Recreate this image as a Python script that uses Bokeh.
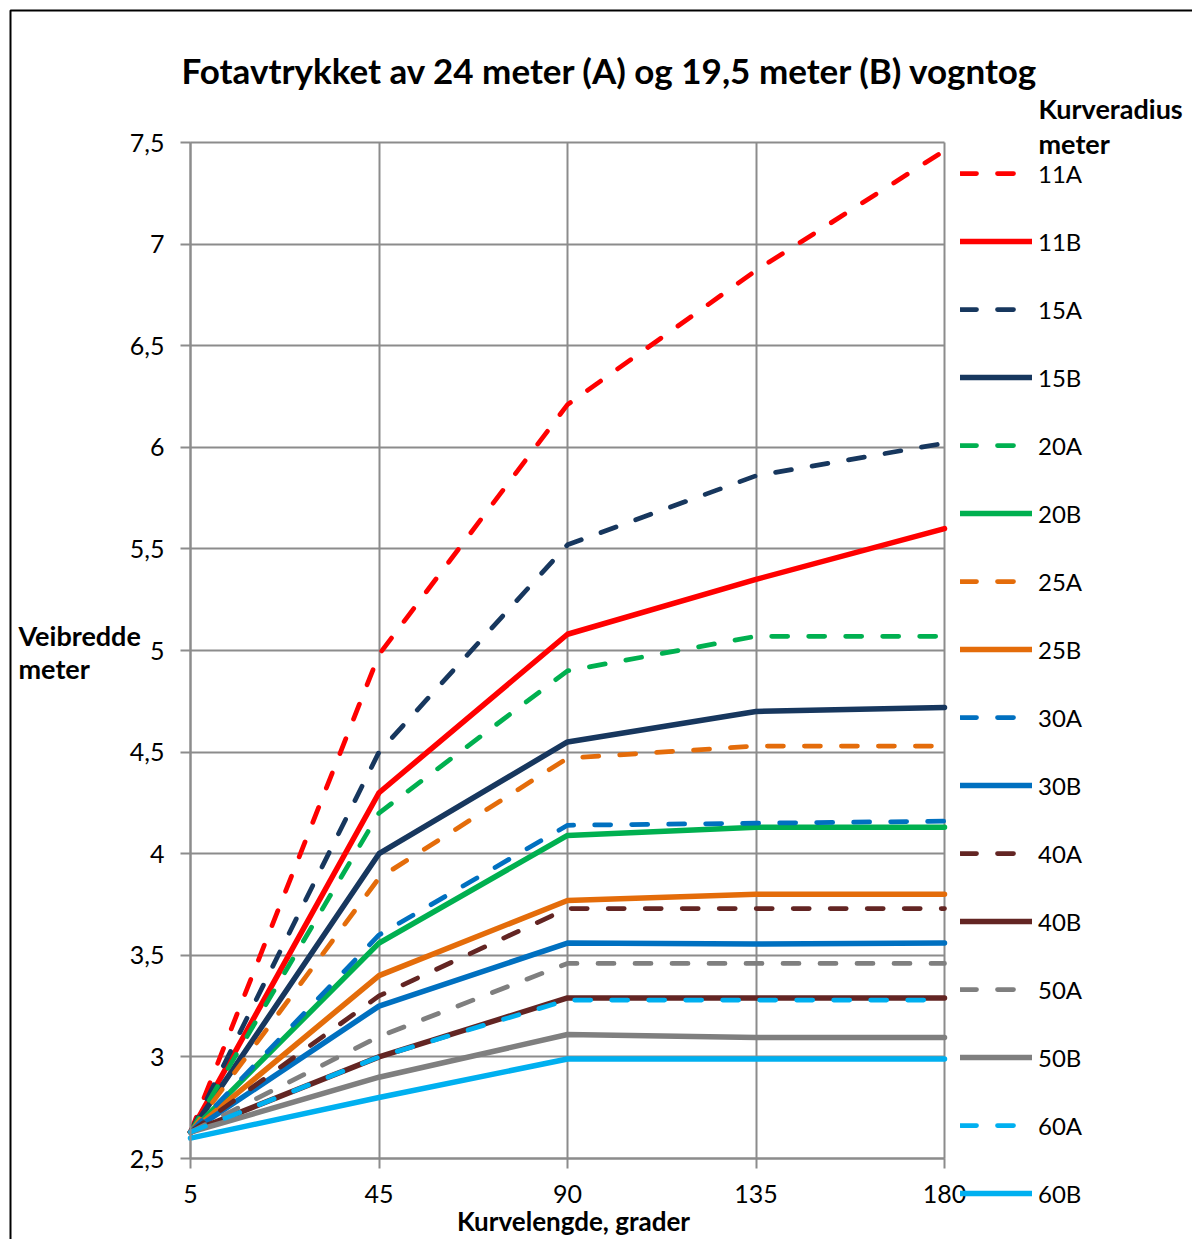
from bokeh.plotting import figure
from bokeh.models import (Range1d, FixedTicker, Label, Legend, LegendItem, BoxAnnotation,
                          CustomJSTickFormatter, LinearAxis, Grid)
from bokeh.embed import file_html
from bokeh.resources import INLINE

# ---- data ----
categories = ["5", "45", "90", "135", "180"]
y_ticks = [2.5, 3.0, 3.5, 4.0, 4.5, 5.0, 5.5, 6.0, 6.5, 7.0, 7.5]

s11A = [2.63, 4.98, 6.21, 6.87, 7.46]
s11B = [2.63, 4.30, 5.08, 5.35, 5.60]
s15A = [2.63, 4.50, 5.52, 5.86, 6.02]
s15B = [2.63, 4.00, 4.55, 4.70, 4.72]
s20A = [2.63, 4.20, 4.90, 5.07, 5.07]
s20B = [2.63, 3.56, 4.09, 4.13, 4.13]
s25A = [2.63, 3.88, 4.47, 4.53, 4.53]
s25B = [2.63, 3.40, 3.77, 3.80, 3.80]
s30A = [2.63, 3.60, 4.14, 4.15, 4.16]
s30B = [2.63, 3.25, 3.56, 3.555, 3.56]
s40A = [2.63, 3.30, 3.73, 3.73, 3.73]
s40B = [2.63, 3.00, 3.29, 3.29, 3.29]
s50A = [2.63, 3.10, 3.46, 3.46, 3.46]
s50B = [2.63, 2.90, 3.11, 3.095, 3.095]
s60A = [2.63, 3.00, 3.28, 3.28, 3.28]
s60B = [2.60, 2.80, 2.99, 2.99, 2.99]

series_names = ["11A", "11B", "15A", "15B", "20A", "20B", "25A", "25B",
                "30A", "30B", "40A", "40B", "50A", "50B", "60A", "60B"]
series_values = [s11A, s11B, s15A, s15B, s20A, s20B, s25A, s25B,
                 s30A, s30B, s40A, s40B, s50A, s50B, s60A, s60B]
radius_colors = {"11": "#FF0000", "15": "#17375E", "20": "#00B050", "25": "#E46C0A",
                 "30": "#0070C0", "40": "#632523", "50": "#7F7F7F", "60": "#00B0F0"}

title_text = "Fotavtrykket av 24 meter (A) og 19,5 meter (B) vogntog"
FONT = "Lato"

# ---- layout (canvas pixels) ----
W, H = 1192, 1239
FL, FR, FT, FB = 190, 944, 142, 1158   # plot area inside the canvas
ymin, ymax = y_ticks[0], y_ticks[-1]
nx = len(categories) - 1
kx = (FR - FL) / nx
ky = (FB - FT) / (ymax - ymin)
x_range = Range1d(-FL / kx, nx + (W - FR) / kx)
y_range = Range1d(ymin - (H - FB) / ky, ymax + FT / ky)

p = figure(width=W, height=H, output_backend="svg", toolbar_location=None,
           x_range=x_range, y_range=y_range,
           x_axis_location=None, y_axis_location=None,
           min_border=0, min_border_left=0, min_border_right=0,
           min_border_top=0, min_border_bottom=0)
p.outline_line_color = None
p.background_fill_color = "white"
p.border_fill_color = "white"

# remove default grids
for r in list(p.center):
    if isinstance(r, Grid):
        p.center.remove(r)

xs = list(range(len(categories)))
x_ticker = FixedTicker(ticks=xs)
y_ticker = FixedTicker(ticks=y_ticks)

GRID_COL = "#8c8c8c"
has_cross = "cross_bounds" in Grid.properties()
if has_cross:
    p.add_layout(Grid(dimension=0, ticker=x_ticker, bounds=(0, nx), cross_bounds=(ymin, ymax),
                      grid_line_color=GRID_COL, grid_line_width=2))
    p.add_layout(Grid(dimension=1, ticker=y_ticker, bounds=(ymin, ymax), cross_bounds=(0, nx),
                      grid_line_color=GRID_COL, grid_line_width=2))
else:
    p.segment(x0=xs, x1=xs, y0=[ymin] * len(xs), y1=[ymax] * len(xs),
              line_color=GRID_COL, line_width=2)
    p.segment(x0=[0] * len(y_ticks), x1=[nx] * len(y_ticks), y0=y_ticks, y1=y_ticks,
              line_color=GRID_COL, line_width=2)

xaxis = LinearAxis(ticker=x_ticker, fixed_location=ymin, bounds=(0, nx),
                   major_label_overrides={i: c for i, c in enumerate(categories)})
yaxis = LinearAxis(ticker=y_ticker, fixed_location=0, bounds=(ymin, ymax),
                   formatter=CustomJSTickFormatter(code="return tick.toString().replace('.', ',')"))
for ax in (xaxis, yaxis):
    ax.axis_line_color = GRID_COL
    ax.axis_line_width = 2
    ax.major_tick_line_color = GRID_COL
    ax.major_tick_line_width = 2
    ax.major_tick_out = 10
    ax.major_tick_in = 0
    ax.minor_tick_line_color = None
    ax.major_label_text_font = FONT
    ax.major_label_text_font_size = "25px"
    ax.major_label_text_color = "black"
yaxis.major_label_standoff = 16
xaxis.major_label_standoff = 16
p.add_layout(xaxis, "below")
p.add_layout(yaxis, "left")

items = []
for name, vals in zip(series_names, series_values):
    col = radius_colors[name[:2]]
    if name.endswith("A"):
        r = p.line(xs, vals, line_color=col, line_width=4.75, line_dash="16 21",
                   line_cap="round", line_join="round")
    else:
        r = p.line(xs, vals, line_color=col, line_width=5.5,
                   line_cap="round", line_join="round")
    items.append(LegendItem(label=name, renderers=[r]))

item_h, item_sp = 40, 28
n = len(items)
leg_top = 173 - item_h / 2
leg_bottom = leg_top + n * item_h + (n - 1) * item_sp
legend = Legend(items=items, location=(960, H - leg_bottom),
                glyph_width=72, glyph_height=item_h, label_height=item_h,
                spacing=item_sp, padding=0, margin=0, label_standoff=6,
                label_text_font=FONT, label_text_font_size="24px",
                label_text_color="black", border_line_color=None,
                background_fill_alpha=0)
p.add_layout(legend, "center")


def lab(text, cx, cy, size, bold=False, align="left"):
    p.add_layout(Label(x=cx, y=H - cy, x_units="screen", y_units="screen",
                       text=text, text_font=FONT, text_font_size=size,
                       text_font_style="bold" if bold else "normal",
                       text_align=align, text_baseline="middle", text_color="black"))


lab(title_text, 610, 69, "35px", bold=True, align="center")
lab("Veibredde", 18, 635, "27px", bold=True)
lab("meter", 18, 668, "27px", bold=True)
lab("Kurvelengde, grader", 573, 1220, "26px", bold=True, align="center")
lab("Kurveradius", 1038, 108, "27px", bold=True)
lab("meter", 1038, 143, "27px", bold=True)

p.add_layout(BoxAnnotation(left=10, right=1500, top=10, bottom=1500,
                           left_units="canvas", right_units="canvas",
                           top_units="canvas", bottom_units="canvas",
                           fill_alpha=0, line_color="black", line_alpha=1.0, line_width=2))

open("out.html", "w").write(file_html(p, INLINE))
